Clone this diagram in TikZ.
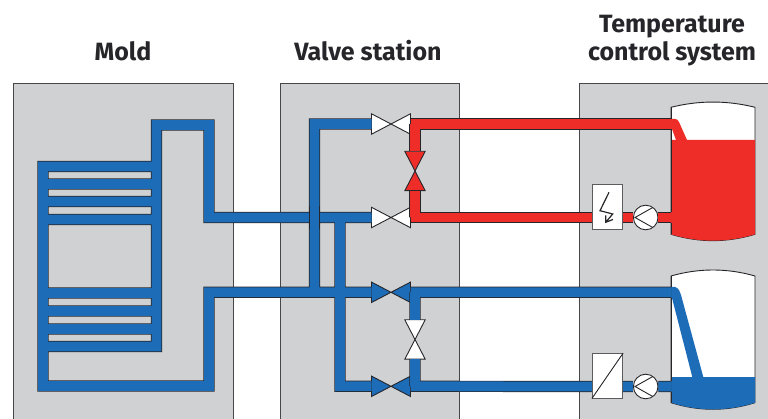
\documentclass[tikz,border=0pt]{standalone}
\usepackage{fontspec}
\setmainfont{Fira Sans}
\usepackage{tikz}
\usetikzlibrary{calc}
\definecolor{panelgray}{RGB}{208,209,211}
\definecolor{linedark}{RGB}{38,38,42}
\definecolor{pipeblue}{RGB}{29,108,183}
\definecolor{pipered}{RGB}{238,45,41}
\tikzset{
  panel/.style={
    draw=linedark!85,
    line width=0.9pt,
    fill=panelgray
  },
  title/.style={
    font=\bfseries\fontsize{25}{30}\selectfont,
    text=linedark,
    align=center,
    anchor=base,
    inner sep=0pt
  },
  bluepipe/.style={
    draw=linedark,
    line width=0.7pt,
    double=pipeblue,
    double distance=9.8pt
  },
  redpipe/.style={
    bluepipe,
    double=pipered
  },
  valveline/.style={
    draw=linedark,
    line width=0.9pt
  },
  hvalve/.style={
    rectangle,
    minimum width=38.6pt,
    minimum height=20pt,
    inner sep=0pt,
    append after command={\pgfextra{
      \draw[valveline,fill=#1] (\tikzlastnode.north west) -- (\tikzlastnode.center) -- (\tikzlastnode.south west) -- cycle
        (\tikzlastnode.north east) -- (\tikzlastnode.center) -- (\tikzlastnode.south east) -- cycle;
    }}
  },
  vvalve/.style={
    rectangle,
    minimum width=20pt,
    minimum height=39pt,
    inner sep=0pt,
    append after command={\pgfextra{
      \draw[valveline,fill=#1] (\tikzlastnode.north west) -- (\tikzlastnode.center) -- (\tikzlastnode.north east) -- cycle
        (\tikzlastnode.south west) -- (\tikzlastnode.center) -- (\tikzlastnode.south east) -- cycle;
    }}
  },
  unitbox/.style={
    rectangle,
    draw=linedark!75,
    line width=0.9pt,
    fill=white,
    minimum width=30.4pt,
    minimum height=44.6pt,
    inner sep=0pt
  },
  pump/.style={
    circle,
    draw=linedark,
    line width=0.9pt,
    fill=white,
    minimum size=24.6pt,
    inner sep=0pt,
    path picture={
      \draw[valveline] ($(path picture bounding box.center)+(7.6,-10.3)$) -- ($(path picture bounding box.center)+(-10.7,0)$)
        -- ($(path picture bounding box.center)+(7.6,10.3)$);
    }
  }
}

\begin{document}
\begin{tikzpicture}[x=1pt,y=-1pt]
  \useasboundingbox (0,0) rectangle (768,419);

  % Grey panels, cut off by the picture's edge
  \path[clip] (0,0) rectangle (768,419);
  \draw[panel] (13,83) rectangle (233,430);
  \draw[panel] (280,83) rectangle (459,430);
  \draw[panel] (579,83) rectangle (780,430);

  % Titles
  \node[title] (mold) at (123,61) {Mold};
  \node[title] (station) at (368,61) {Valve station};
  \node[title] (tempa) at (672,33) {Temperature};
  \node[title] (tempb) at (672,61) {control system};

  % Valves
  \node[hvalve=white] (vhot) at (391,124) {};
  \node[hvalve=white] (vhotret) at (391,217.5) {};
  \node[hvalve=pipeblue] (vcold) at (391,292.3) {};
  \node[hvalve=pipeblue] (vcoldret) at (391,386.3) {};
  \node[vvalve=pipered] (vhotby) at (415,171) {};
  \node[vvalve=white] (vcoldby) at (415,339.5) {};

  % Heater, cooler and the two pumps
  \node[unitbox] (heater) at (607.5,207.2) {};
  \node[pump] (hotpump) at (645.7,217.5) {};
  \node[unitbox] (cooler) at (607.5,375.8) {};
  \node[pump] (coldpump) at (645.7,386.5) {};
  \draw[valveline,line width=1.2pt] (609,192.3) -- (600,210.7) -- (612.7,214) -- (605.7,222.3)
    (605.7,215.5) -- (605.7,222.3) -- (613,219.5);
  \draw[valveline] (cooler.south west) -- (cooler.north east);

  % Tanks
  \coordinate (hottank) at (671,107.3);
  \coordinate (coldtank) at (671,276);
  \draw[valveline,fill=white] (hottank) .. controls (699,100.3) and (727,100.3) .. (755,107.3) -- (755,234.3)
    .. controls (727,242.8) and (699,242.8) .. (671,234.3) -- cycle;
  \fill[pipered] (671,140) -- (755,140) -- (755,234.3)
    .. controls (727,242.8) and (699,242.8) .. (671,234.3) -- cycle;
  \draw[valveline,fill=white] (coldtank) .. controls (699,268) and (727,268) .. (755,276) -- (755,402.7)
    .. controls (727,411.5) and (699,411.5) .. (671,402.7) -- cycle;
  \fill[pipeblue] (671,377) -- (755,377) -- (755,402.7)
    .. controls (727,411.5) and (699,411.5) .. (671,402.7) -- cycle;

  % Pipes running down into the tanks
  \fill[pipered] (671,119) -- (675,119) .. controls (677,119) and (678,120) .. (679,122) -- (687,140) -- (676,140) -- (672,129) -- (671,129) -- cycle;
  \fill[pipeblue] (671,287) -- (675,287) .. controls (679,288) and (680,292) .. (681,295) -- (703.3,377) -- (692.3,377) -- (672,298) -- (671,298) -- cycle;
  \draw[valveline] (671,107.3) -- (671,119) (671,129) -- (671,212) (671,223) -- (671,234.3);
  \draw[valveline] (671,276) -- (671,287) (671,298) -- (671,381) (671,392) -- (671,402.7);

  % Mold channels, valve station and cold circuit
  \draw[bluepipe] (vhotret.west) -- (209,217.5) -- (209,125) -- (156.5,125) -- (156.5,346.5) -- (43,346.5)
    (156.5,166.5) -- (43,166.5) -- (43,386) -- (209,386) -- (209,292.3) -- (vcold.west)
    (43,184) -- (156.5,184)
    (43,201.5) -- (156.5,201.5)
    (43,219.5) -- (156.5,219.5)
    (43,293) -- (156.5,293)
    (43,311) -- (156.5,311)
    (43,329) -- (156.5,329)
    (vhot.west) -| (314.5,292.3)
    (340,217.5) |- (vcoldret.west)
    (vcold.east) -- (415,292.3) -- (vcoldby.north)
    (vcoldret.east) -- (415,386.3) -- (vcoldby.south)
    (415,292.3) -- (671,292.3)
    (415,386.3) -- (cooler.west |- coldpump.west)
    (cooler.east |- coldpump.east) -- (coldpump.west)
    (coldpump.east) -- (671,386.5);

  % Riser passes over the mold line
  \draw[bluepipe] (314.5,206) -- (314.5,229);

  % Hot circuit
  \draw[redpipe] (vhot.east) -- (415,124) -- (vhotby.north)
    (vhotret.east) -- (415,217.5) -- (vhotby.south)
    (415,124) -- (671,124)
    (415,217.5) -- (heater.west |- hotpump.west)
    (heater.east |- hotpump.east) -- (hotpump.west)
    (hotpump.east) -- (671,217.5);

\end{tikzpicture}
\end{document}
